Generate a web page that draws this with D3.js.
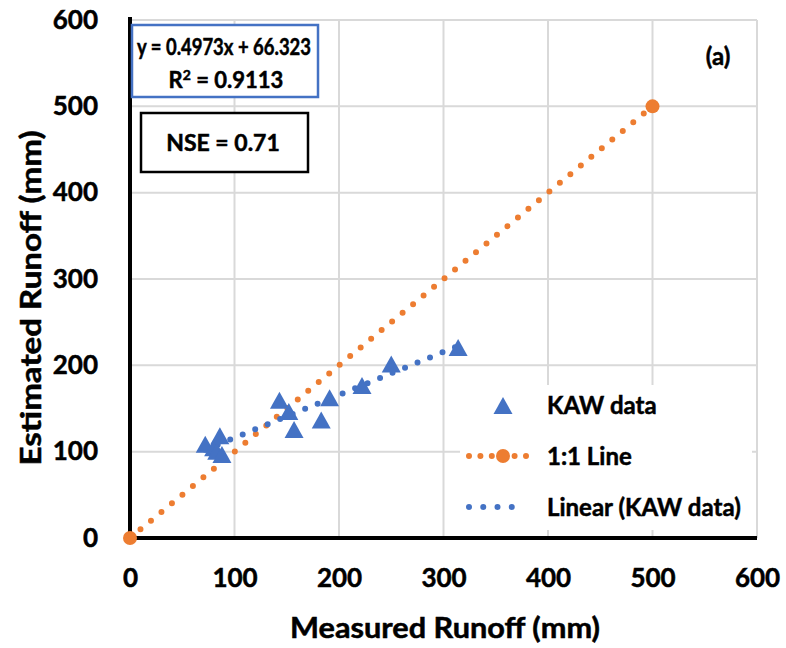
<!DOCTYPE html>
<html>
<head>
<meta charset="utf-8">
<script src="https://cdn.jsdelivr.net/npm/d3@7"></script>
<style>
  body { margin: 0; background: #fff; }
  text { font-family: Lato, "Open Sans", sans-serif; font-weight: bold; fill: #000; stroke: #000; stroke-width: 0.5px; }
</style>
</head>
<body>
<div id="chart"></div>
<script>
// KAW measured vs estimated runoff (mm)
const measured  = [72, 80, 83, 86, 88, 143, 152, 157, 183, 191, 222, 250, 314];
const estimated = [108, 104, 100, 118, 96, 159, 146, 125, 136, 162, 176, 201, 220];
const oneToOne = [0, 500];
const ticks = [0, 100, 200, 300, 400, 500, 600];
const slope = 0.4973, intercept = 66.323;
const eqLabel = "y = 0.4973x + 66.323";
const r2Value = "0.9113";
const nseLabel = "NSE = 0.71";
const legendNames = ["KAW data", "1:1 Line", "Linear (KAW data)"];

const blue = "#4472C4", orange = "#ED7D31";

const svg = d3.select("#chart").append("svg")
    .attr("width", 786).attr("height", 648);

const x = d3.scaleLinear().domain([0, 600]).range([130, 757]);
const y = d3.scaleLinear().domain([0, 600]).range([538, 20]);

// gridlines
svg.append("g").selectAll("line.v").data(ticks.slice(1)).enter().append("line")
    .attr("x1", d => x(d)).attr("x2", d => x(d))
    .attr("y1", y(0)).attr("y2", y(600))
    .attr("stroke", "#d9d9d9").attr("stroke-width", 2);
svg.append("g").selectAll("line.h").data(ticks.slice(1)).enter().append("line")
    .attr("y1", d => y(d)).attr("y2", d => y(d))
    .attr("x1", x(0)).attr("x2", x(600))
    .attr("stroke", "#d9d9d9").attr("stroke-width", 2);

// tick labels through d3 axes
const xAxis = svg.append("g")
    .attr("transform", `translate(0, ${y(0)})`)
    .call(d3.axisBottom(x).tickValues(ticks).tickSize(0).tickPadding(31));
xAxis.select(".domain").remove();
xAxis.selectAll("text").style("font-size", "26px").attr("fill", "#000")
    .style("font-family", "Lato, sans-serif");

const yAxis = svg.append("g")
    .attr("transform", `translate(${x(0)}, 0)`)
    .call(d3.axisLeft(y).tickValues(ticks).tickSize(0).tickPadding(32));
yAxis.select(".domain").remove();
yAxis.selectAll("text").style("font-size", "26px").attr("fill", "#000")
    .style("font-family", "Lato, sans-serif");

// axis lines
svg.append("line").attr("x1", x(0)).attr("x2", x(600)).attr("y1", y(0)).attr("y2", y(0))
    .attr("stroke", "#000").attr("stroke-width", 4);
svg.append("line").attr("x1", x(0)).attr("x2", x(0)).attr("y1", y(0) + 2).attr("y2", y(600) - 3)
    .attr("stroke", "#000").attr("stroke-width", 4);

// axis titles
svg.append("text").attr("x", 445).attr("y", 638).attr("text-anchor", "middle")
    .style("font-size", "28px").attr("textLength", 310).attr("lengthAdjust", "spacingAndGlyphs")
    .text("Measured Runoff (mm)");
svg.append("text").attr("transform", "translate(41, 298) rotate(-90)")
    .attr("text-anchor", "middle").style("font-size", "28px")
    .attr("textLength", 335).attr("lengthAdjust", "spacingAndGlyphs")
    .text("Estimated Runoff (mm)");

// 1:1 line
svg.append("line")
    .attr("x1", x(oneToOne[0])).attr("y1", y(oneToOne[0]))
    .attr("x2", x(oneToOne[1])).attr("y2", y(oneToOne[1]))
    .attr("stroke", orange).attr("stroke-width", 6)
    .attr("stroke-linecap", "round").attr("stroke-dasharray", "0 13.6");
svg.selectAll("circle.one").data(oneToOne).enter().append("circle")
    .attr("cx", d => x(d)).attr("cy", d => y(d)).attr("r", 7).attr("fill", orange);

// linear trendline
const xMin = d3.min(measured), xMax = d3.max(measured);
svg.append("line")
    .attr("x1", x(xMin)).attr("y1", y(slope * xMin + intercept))
    .attr("x2", x(xMax)).attr("y2", y(slope * xMax + intercept))
    .attr("stroke", blue).attr("stroke-width", 6)
    .attr("stroke-linecap", "round").attr("stroke-dasharray", "0 13.5");

// data triangles (slightly taller than equilateral, like the Excel marker)
const tri = "M0,-9L9.5,8L-9.5,8Z";
svg.selectAll("path.pt").data(measured).enter().append("path")
    .attr("d", tri)
    .attr("transform", (d, i) => `translate(${x(d)}, ${y(estimated[i])})`)
    .attr("fill", blue);

// equation box
svg.append("rect").attr("x", 132).attr("y", 25).attr("width", 186).attr("height", 72)
    .attr("fill", "#fff").attr("stroke", blue).attr("stroke-width", 2.5);
svg.append("text").attr("x", 224).attr("y", 55).attr("text-anchor", "middle")
    .style("font-size", "22px").attr("textLength", 174).attr("lengthAdjust", "spacingAndGlyphs")
    .text(eqLabel);
const r2 = svg.append("text").attr("x", 226).attr("y", 88).attr("text-anchor", "middle")
    .style("font-size", "22px");
r2.append("tspan").text("R");
r2.append("tspan").attr("dy", -8).style("font-size", "14px").text("2");
r2.append("tspan").attr("dy", 8).text(" = " + r2Value);

// NSE box
svg.append("rect").attr("x", 141).attr("y", 113).attr("width", 167).attr("height", 59)
    .attr("fill", "#fff").attr("stroke", "#000").attr("stroke-width", 2.5);
svg.append("text").attr("x", 223).attr("y", 151).attr("text-anchor", "middle")
    .style("font-size", "23px").text(nseLabel);

// panel label
svg.append("text").attr("x", 718).attr("y", 65).attr("text-anchor", "middle")
    .style("font-size", "24px").text("(a)");

// legend
const lg = svg.append("g");
lg.append("rect").attr("x", 460).attr("y", 385).attr("width", 292).attr("height", 145).attr("fill", "#fff");
lg.append("path").attr("d", tri).attr("transform", "translate(503, 406)").attr("fill", blue);
lg.append("line").attr("x1", 469).attr("x2", 526).attr("y1", 456).attr("y2", 456)
    .attr("stroke", orange).attr("stroke-width", 6).attr("stroke-linecap", "round")
    .attr("stroke-dasharray", "0 11.4");
lg.append("circle").attr("cx", 503).attr("cy", 456).attr("r", 7).attr("fill", orange);
lg.append("line").attr("x1", 469).attr("x2", 526).attr("y1", 507).attr("y2", 507)
    .attr("stroke", blue).attr("stroke-width", 6).attr("stroke-linecap", "round")
    .attr("stroke-dasharray", "0 14.25");
lg.selectAll("text.lg").data(legendNames).enter().append("text")
    .attr("x", 547).attr("y", (d, i) => 414 + i * 51)
    .style("font-size", "24px").text(d => d);
</script>
</body>
</html>
